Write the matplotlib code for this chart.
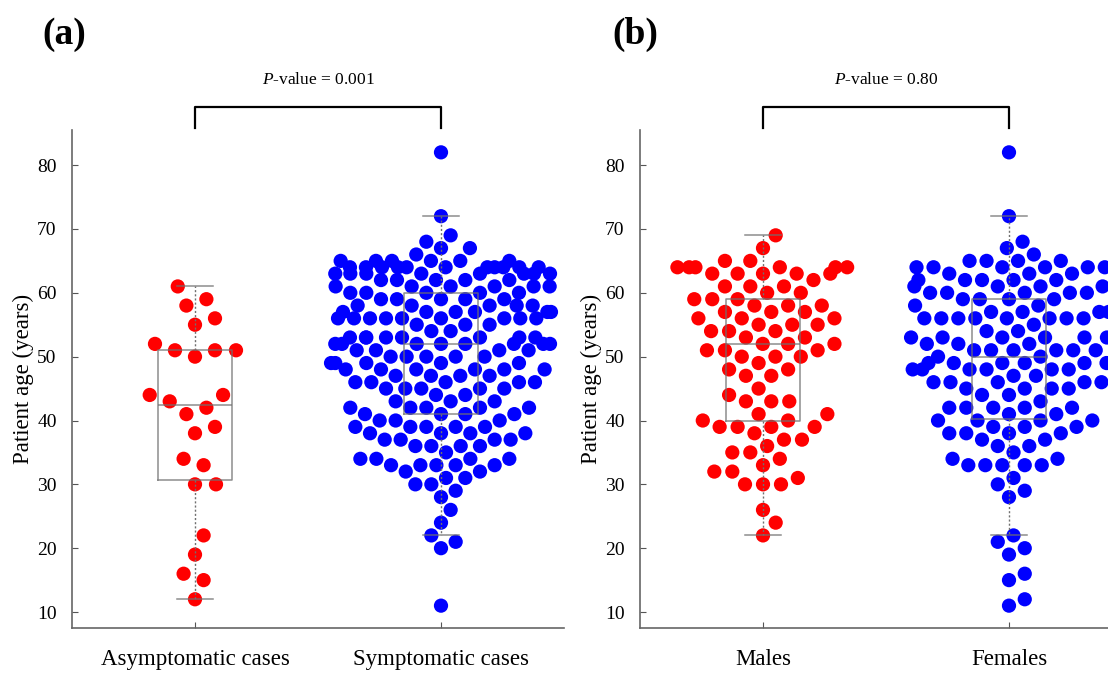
import numpy as np
import matplotlib
matplotlib.use("Agg")
import matplotlib.pyplot as plt
from matplotlib.transforms import blended_transform_factory

plt.rcParams['font.family'] = ['Liberation Serif', 'DejaVu Serif']
plt.rcParams['mathtext.fontset'] = 'custom'
plt.rcParams['mathtext.rm'] = 'Liberation Serif'
plt.rcParams['mathtext.it'] = 'Liberation Serif:italic'

# patient ages
asym = [61, 59, 58, 56, 55, 52, 51, 51, 51, 50, 44, 44, 43, 42, 41, 39, 38,
        34, 33, 30, 30, 22, 19, 16, 15, 12]
sym = [82, 72, 69, 68, 67, 67, 66,
       65, 65, 65, 65, 65, 65,
       64, 64, 64, 64, 64, 64, 64, 64, 64, 64, 64,
       63, 63, 63, 63, 63, 63, 63, 63,
       62, 62, 62, 62, 62,
       61, 61, 61, 61, 61, 61,
       60, 60, 60, 60, 60,
       59, 59, 59, 59, 59,
       58, 58, 58, 58, 58,
       57, 57, 57, 57, 57, 57,
       56, 56, 56, 56, 56, 56, 56, 56, 56,
       55, 55, 55, 54, 54,
       53, 53, 53, 53, 53, 53, 53, 53,
       52, 52, 52, 52, 52, 52, 52, 52,
       51, 51, 51, 51,
       50, 50, 50, 50, 50,
       49, 49, 49, 49, 49,
       48, 48, 48, 48, 48, 48,
       47, 47, 47, 47,
       46, 46, 46, 46, 46,
       45, 45, 45, 45, 45,
       44, 44, 43, 43, 43,
       42, 42, 42, 42, 42,
       41, 41, 41, 41, 40, 40, 40,
       39, 39, 39, 39, 39,
       38, 38, 38, 38, 37, 37, 37, 37,
       36, 36, 36, 36, 35,
       34, 34, 34, 34,
       33, 33, 33, 33, 33,
       32, 32, 31, 31, 30, 30, 29, 28, 26, 24, 22, 21, 20, 11]
males = [69, 67, 65, 65, 64, 64, 64, 64, 64, 64, 63, 63, 63, 63, 63, 62,
         61, 61, 61, 60, 60, 59, 59, 59, 58, 58, 58, 57, 57, 57, 56, 56, 56,
         55, 55, 55, 54, 54, 54, 53, 53, 52, 52, 52, 51, 51, 51, 50, 50, 50,
         49, 48, 48, 47, 47, 45, 44, 43, 43, 43, 41, 41, 40, 40, 39, 39, 39,
         39, 38, 37, 37, 36, 35, 35, 34, 33, 32, 32, 31, 30, 30, 30, 26, 24, 22]
females = [82, 72, 68, 67, 66, 65, 65, 65, 65, 64, 64, 64, 64, 64, 64,
           63, 63, 63, 62, 62, 62, 62, 62, 61, 61, 61, 61, 60, 60, 60, 60, 60,
           59, 59, 59, 59, 58, 58, 57, 57, 57, 57,
           56, 56, 56, 56, 56, 56, 56, 56, 55, 54, 54,
           53, 53, 53, 53, 53, 53, 52, 52, 52, 51, 51, 51, 51, 51, 51, 50, 50,
           49, 49, 49, 49, 49, 49, 48, 48, 48, 48, 48, 48, 47, 47,
           46, 46, 46, 46, 46, 45, 45, 45, 45, 44, 44, 43,
           42, 42, 42, 42, 42, 41, 41, 40, 40, 40, 40, 39, 39, 39,
           38, 38, 38, 38, 37, 37, 36, 36, 35, 34, 34,
           33, 33, 33, 33, 33, 31, 30, 29, 28, 22, 21, 20, 19, 16, 15, 12, 11]

labels_a = ['Asymptomatic cases', 'Symptomatic cases']
labels_b = ['Males', 'Females']
pval_a = '0.001'
pval_b = '0.80'


def swarm(ypix, diam, width):
    # beeswarm, lowest values first, points that run past +-width wrap round
    order = np.argsort(ypix, kind='stable')
    placed = []
    xs = np.zeros(len(ypix))
    for i in order:
        y = ypix[i]
        pos, neg = [], []
        for px, py in placed:
            dy = abs(y - py)
            if dy < diam:
                dx = np.sqrt(diam ** 2 - dy ** 2)
                pos.append(px + dx)
                neg.append(px - dx)
        cands = [0.0] + pos + neg
        best = None
        for c in cands:
            if all((c - px) ** 2 + (y - py) ** 2 >= diam ** 2 - 1e-6 for px, py in placed):
                if best is None or abs(c) < abs(best) - 1e-9:
                    best = c
        placed.append((best, y))
        xs[i] = best
    return ((xs + width) % (2 * width)) - width


fig = plt.figure(figsize=(11.08, 6.75), dpi=100)
ax1 = fig.add_axes([72 / 1108, 47 / 675, 492 / 1108, 498 / 675])
ax2 = fig.add_axes([640 / 1108, 47 / 675, 492 / 1108, 498 / 675])


def draw_panel(ax, groups, colors, labels, pval, diams, widths):
    ax.set_xlim(-0.5, 1.5)
    ax.set_ylim(7.5, 85.5)
    ppx = ax.bbox.width / 2.0
    ppy = ax.bbox.height / 78.0
    for i, (vals, c, d, w) in enumerate(zip(groups, colors, diams, widths)):
        v = np.array(vals, dtype=float)
        off = swarm(v * ppy, d, w) / ppx
        ax.scatter(i + off, v, s=105, color=c, edgecolors='none', zorder=2)

    grey = dict(color='#707070', linewidth=1.1, alpha=0.8)
    ax.boxplot(groups, positions=[0, 1], widths=0.3, whis=1.0, showfliers=False,
               capwidths=0.15, manage_ticks=False, zorder=3,
               boxprops=grey, medianprops=grey, capprops=grey,
               whiskerprops=dict(color='#707070', linewidth=1.0, linestyle=(0, (1.5, 1.5))))

    ax.set_xticks([0, 1])
    ax.set_xticklabels(labels, fontsize=16.5)
    ax.set_yticks(range(10, 81, 10))
    ax.tick_params(axis='y', labelsize=14, direction='in', length=4, pad=11, color='#555555')
    ax.tick_params(axis='x', direction='in', length=4, pad=15, color='#555555')
    ax.set_ylabel('Patient age (years)', fontsize=16.5, labelpad=2)
    for s in ['top', 'right']:
        ax.spines[s].set_visible(False)
    for s in ['left', 'bottom']:
        ax.spines[s].set_color('#666666')
        ax.spines[s].set_linewidth(1.2)

    trans = blended_transform_factory(ax.transData, ax.transAxes)
    ax.plot([0, 0, 1, 1], [1.004, 1.046, 1.046, 1.004], transform=trans,
            color='black', linewidth=1.6, clip_on=False)
    ax.text(0.5, 1.10, '$P$-value = ' + pval, transform=trans, ha='center',
            va='center', fontsize=12.5)


draw_panel(ax1, [asym, sym], ['#ff0000', '#0000ff'], labels_a, pval_a, [21, 16], [112, 112])
draw_panel(ax2, [males, females], ['#ff0000', '#0000ff'], labels_b, pval_b, [18, 17], [88, 100])

fig.text(42 / 1108, 1 - 34 / 675, '(a)', fontsize=27, fontweight='bold', va='center')
fig.text(612 / 1108, 1 - 34 / 675, '(b)', fontsize=27, fontweight='bold', va='center')

fig.savefig('out.png', dpi=100)
